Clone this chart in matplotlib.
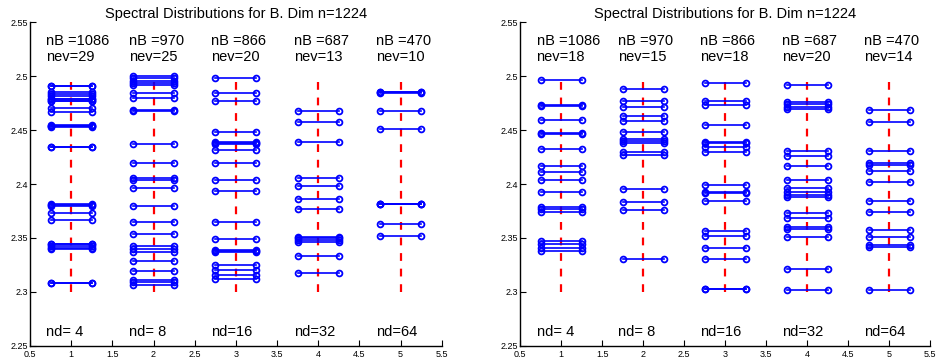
import matplotlib
matplotlib.use("Agg")
import matplotlib.pyplot as plt
from matplotlib.ticker import FuncFormatter

plt.rcParams['font.family'] = ['Liberation Sans', 'DejaVu Sans']

title = "Spectral Distributions for B. Dim n=1224"
positions = [1, 2, 3, 4, 5]
nd_labels = ["nd= 4", "nd= 8", "nd=16", "nd=32", "nd=64"]
nB_values = [1086, 970, 866, 687, 470]

# Left panel eigenvalues per column
left_col1 = [2.4911, 2.4906, 2.4852, 2.4837, 2.4812, 2.4791, 2.4786, 2.4772, 2.4768,
             2.4708, 2.4665, 2.4545, 2.4540, 2.4535, 2.4532, 2.4344, 2.4340,
             2.3811, 2.3807, 2.3794, 2.3729, 2.3671, 2.3446, 2.3440, 2.3425,
             2.3403, 2.3400, 2.3083, 2.3081]
left_col2 = [2.5000, 2.4978, 2.4957, 2.4935, 2.4917, 2.4843, 2.4800, 2.4682, 2.4678,
             2.4369, 2.4191, 2.4055, 2.4037, 2.3960, 2.3794, 2.3649, 2.3538,
             2.3428, 2.3394, 2.3372, 2.3289, 2.3191, 2.3114, 2.3092, 2.3068]
left_col3 = [2.4982, 2.4843, 2.4769, 2.4479, 2.4387, 2.4380, 2.4374, 2.4316, 2.4196,
             2.4033, 2.3932, 2.3650, 2.3487, 2.3388, 2.3380, 2.3373, 2.3250,
             2.3204, 2.3154, 2.3123]
left_col4 = [2.4677, 2.4578, 2.4390, 2.4051, 2.3984, 2.3860, 2.3768, 2.3512, 2.3500,
             2.3485, 2.3466, 2.3337, 2.3174]
left_col5 = [2.4852, 2.4849, 2.4846, 2.4677, 2.4510, 2.3819, 2.3817, 2.3815,
             2.3626, 2.3518]

# Right panel eigenvalues per column
right_col1 = [2.4966, 2.4735, 2.4718, 2.4590, 2.4475, 2.4460, 2.4320, 2.4168, 2.4107,
              2.4033, 2.3925, 2.3790, 2.3770, 2.3745, 2.3470, 2.3440, 2.3410, 2.3380]
right_col2 = [2.4883, 2.4766, 2.4717, 2.4633, 2.4584, 2.4483, 2.4418, 2.4396, 2.4378,
              2.4298, 2.4264, 2.3950, 2.3830, 2.3762, 2.3303]
right_col3 = [2.4938, 2.4766, 2.4735, 2.4544, 2.4393, 2.4378, 2.4344, 2.4292, 2.3993,
              2.3928, 2.3916, 2.3842, 2.3565, 2.3522, 2.3411, 2.3309, 2.3031, 2.3027]
right_col4 = [2.4917, 2.4763, 2.4741, 2.4717, 2.4692, 2.4310, 2.4261, 2.4169, 2.4036,
              2.3966, 2.3923, 2.3901, 2.3879, 2.3728, 2.3688, 2.3599, 2.3586,
              2.3506, 2.3217, 2.3023]
right_col5 = [2.4686, 2.4578, 2.4310, 2.4199, 2.4175, 2.4116, 2.4017, 2.3842, 2.3740,
              2.3571, 2.3506, 2.3432, 2.3420, 2.3023]

left_data = [left_col1, left_col2, left_col3, left_col4, left_col5]
right_data = [right_col1, right_col2, right_col3, right_col4, right_col5]

y_ticks = [2.25, 2.3, 2.35, 2.4, 2.45, 2.5, 2.55]
x_ticks = [0.5, 1, 1.5, 2, 2.5, 3, 3.5, 4, 4.5, 5, 5.5]


def fmt(v, pos):
    s = ("%.4f" % v).rstrip('0').rstrip('.')
    return s


fig = plt.figure(figsize=(9.38, 3.64), dpi=100)
ax_l = fig.add_axes([0.032, 0.0495, 0.439, 0.890])
ax_r = fig.add_axes([0.5545, 0.0495, 0.437, 0.890])

for ax, data in [(ax_l, left_data), (ax_r, right_data)]:
    for xc, vals, nb, ndl in zip(positions, data, nB_values, nd_labels):
        ax.plot([xc, xc], [2.3, 2.5], color='#ff0000', linestyle=(0, (3.5, 3.5)),
                linewidth=1.6, zorder=1)
        for v in vals:
            ax.plot([xc - 0.25, xc + 0.25], [v, v], color='#0000ff', linewidth=1.2,
                    marker='o', markersize=4.2, markerfacecolor='none',
                    markeredgewidth=1.3, zorder=2)
        ax.text(xc - 0.3, 2.5325, "nB =%d" % nb, fontsize=10.5, va='center', ha='left')
        ax.text(xc - 0.3, 2.5178, "nev=%d" % len(vals), fontsize=10.5, va='center', ha='left')
        ax.text(xc - 0.3, 2.2628, ndl, fontsize=10.5, va='center', ha='left')
    ax.set_xlim(0.5, 5.5)
    ax.set_ylim(2.25, 2.55)
    ax.set_xticks(x_ticks)
    ax.set_yticks(y_ticks)
    ax.xaxis.set_major_formatter(FuncFormatter(fmt))
    ax.yaxis.set_major_formatter(FuncFormatter(fmt))
    ax.tick_params(direction='in', labelsize=6.5, length=4, width=0.8, pad=1.5)
    ax.tick_params(axis='x', pad=3)
    ax.spines['top'].set_visible(False)
    ax.spines['right'].set_visible(False)
    ax.spines['left'].set_linewidth(1.0)
    ax.spines['bottom'].set_linewidth(1.0)
    ax.set_title(title, fontsize=10.5, pad=3)

fig.savefig("out.png", dpi=100)
